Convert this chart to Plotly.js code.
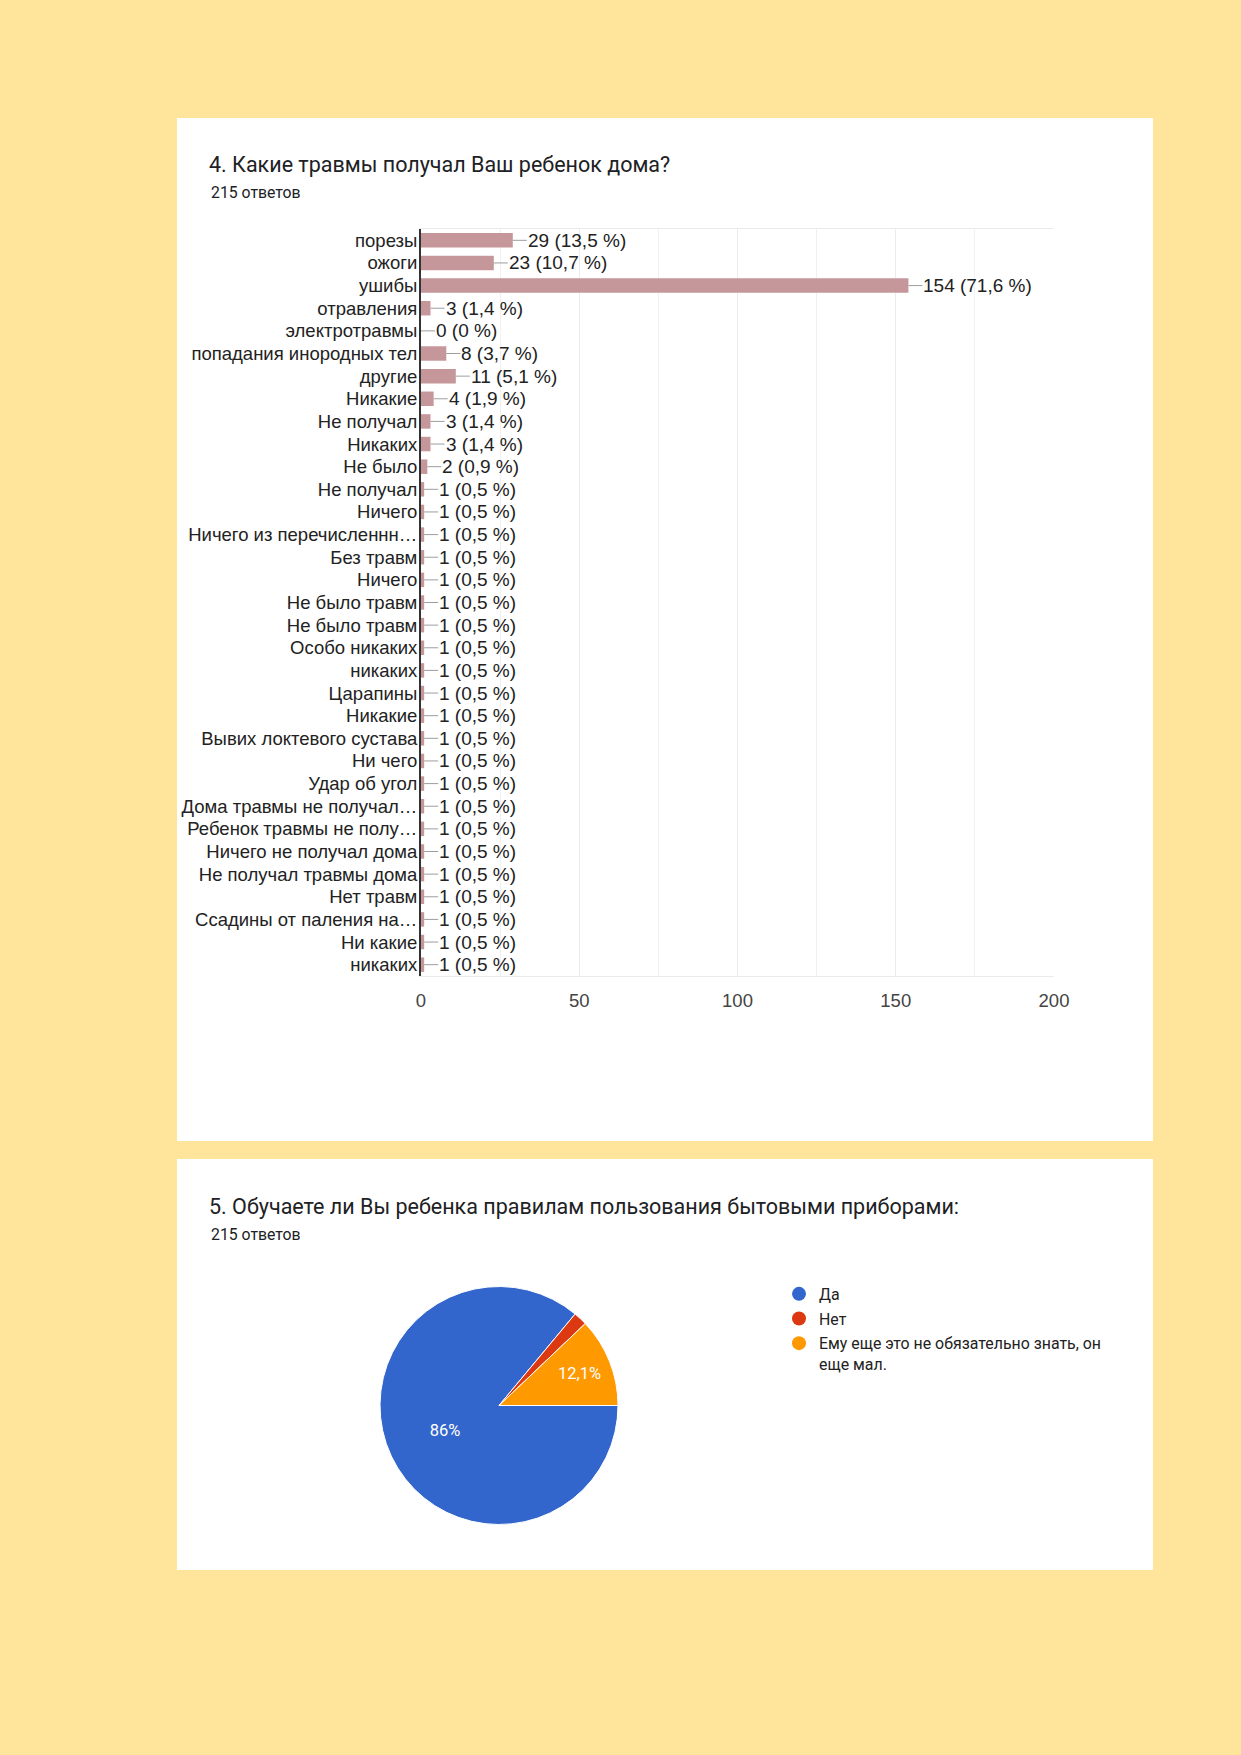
<!DOCTYPE html>
<html>
<head>
<meta charset="utf-8">
<script src="https://cdn.plot.ly/plotly-3.0.1.min.js"></script>
<style>
  html, body { margin: 0; padding: 0; }
  body { width: 1241px; height: 1755px; background: #ffe59c; position: relative; overflow: hidden; }
  .card { position: absolute; left: 177px; width: 976px; background: #ffffff; }
  #card1 { top: 118px; height: 1023px; }
  #card2 { top: 1159px; height: 411px; }
</style>
</head>
<body>
<div class="card" id="card1"><div id="bar"></div></div>
<div class="card" id="card2"><div id="pie"></div></div>
<script>
// ---------- Question 4 data ----------
const q4Title = '4. Какие травмы получал Ваш ребенок дома?';
const q4Responses = '215 ответов';
const injuryLabels = [
  'порезы', 'ожоги', 'ушибы', 'отравления', 'электротравмы',
  'попадания инородных тел', 'другие', 'Никакие', 'Не получал', 'Никаких',
  'Не было', 'Не получал', 'Ничего', 'Ничего из перечисленнн…', 'Без травм',
  'Ничего', 'Не было травм', 'Не было травм', 'Особо никаких', 'никаких',
  'Царапины', 'Никакие', 'Вывих локтевого сустава', 'Ни чего', 'Удар об угол',
  'Дома травмы не получал…', 'Ребенок травмы не полу…', 'Ничего не получал дома',
  'Не получал травмы дома', 'Нет травм', 'Ссадины от паления на…', 'Ни какие', 'никаких'
];
const injuryCounts = [
  29, 23, 154, 3, 0,
  8, 11, 4, 3, 3,
  2, 1, 1, 1, 1,
  1, 1, 1, 1, 1,
  1, 1, 1, 1, 1,
  1, 1, 1,
  1, 1, 1, 1, 1
];
const injuryPercents = [
  '13,5 %', '10,7 %', '71,6 %', '1,4 %', '0 %',
  '3,7 %', '5,1 %', '1,9 %', '1,4 %', '1,4 %',
  '0,9 %', '0,5 %', '0,5 %', '0,5 %', '0,5 %',
  '0,5 %', '0,5 %', '0,5 %', '0,5 %', '0,5 %',
  '0,5 %', '0,5 %', '0,5 %', '0,5 %', '0,5 %',
  '0,5 %', '0,5 %', '0,5 %',
  '0,5 %', '0,5 %', '0,5 %', '0,5 %', '0,5 %'
];
const xTickVals = [0, 50, 100, 150, 200];

// ---------- Question 5 data ----------
const q5Title = '5. Обучаете ли Вы ребенка правилам пользования бытовыми приборами:';
const q5Responses = '215 ответов';
const answerLabels = ['Да', 'Нет', 'Ему еще это не обязательно знать, он<br>еще мал.'];
const answerCounts = [185, 4, 26];
const answerSliceText = ['86%', '', '12,1%'];
const answerColors = ['#3366cc', '#dc3912', '#ff9900'];

// ---------- Bar chart ----------
const idx = injuryLabels.map((_, i) => i);
const barTrace = {
  type: 'bar', orientation: 'h',
  x: injuryCounts, y: idx,
  width: 0.64,
  marker: { color: '#c5979b' },
  hoverinfo: 'skip'
};
const valueAnns = injuryCounts.map((v, i) => ({
  x: v, y: i, xref: 'x', yref: 'y',
  text: v + ' (' + injuryPercents[i] + ')',
  showarrow: true, arrowhead: 0, arrowwidth: 1, arrowcolor: '#9e9e9e',
  ax: 14, ay: 0, axref: 'pixel', ayref: 'pixel',
  xanchor: 'left', yanchor: 'middle', standoff: 0, borderpad: 0,
  font: { family: 'Liberation Sans, Arial, sans-serif', size: 19, color: '#222222' }
}));
valueAnns.push({
  xref: 'paper', yref: 'paper', x: (32 - 244) / 633, y: 1 + (111 - 74.5) / 747,
  xanchor: 'left', yanchor: 'middle', showarrow: false,
  text: q4Responses,
  font: { family: 'Roboto, sans-serif', size: 15.8, color: '#202124' }
});
const barLayout = {
  width: 976, height: 1023,
  margin: { l: 244, r: 99, t: 111, b: 165 },
  paper_bgcolor: '#ffffff', plot_bgcolor: '#ffffff',
  showlegend: false,
  title: {
    text: q4Title, xref: 'container', yref: 'container',
    x: 32 / 976, xanchor: 'left', y: 1 - 46.5 / 1023, yanchor: 'middle',
    font: { family: 'Roboto, sans-serif', size: 21.5, color: '#202124' }
  },
  xaxis: {
    range: [0, 200], tickvals: xTickVals, ticktext: xTickVals.map(String),
    showgrid: true, gridcolor: '#ebebeb', gridwidth: 1,
    minor: { dtick: 25, tick0: 0, showgrid: true, gridcolor: '#f1f1f1', gridwidth: 1 },
    zeroline: false,
    showline: true, mirror: true, linecolor: '#ebebeb', linewidth: 1,
    ticks: 'outside', ticklen: 8, tickcolor: 'rgba(0,0,0,0)',
    tickfont: { family: 'Liberation Sans, Arial, sans-serif', size: 18.5, color: '#444444' },
    fixedrange: true
  },
  yaxis: {
    range: [idx.length - 0.5, -0.5],
    tickvals: idx, ticktext: injuryLabels,
    showgrid: false, zeroline: false,
    showline: true, linecolor: '#333333', linewidth: 2, layer: 'above traces',
    ticks: '', ticklabelstandoff: -2,
    tickfont: { family: 'Liberation Sans, Arial, sans-serif', size: 18.5, color: '#222222' },
    fixedrange: true
  },
  annotations: valueAnns
};
Plotly.newPlot('bar', [barTrace], barLayout, { displayModeBar: false, staticPlot: true });

// ---------- Pie chart ----------
const pieTrace = {
  type: 'pie',
  values: answerCounts, labels: answerLabels,
  marker: { colors: answerColors, line: { color: '#ffffff', width: 1 } },
  sort: false, direction: 'clockwise', rotation: 90,
  text: answerSliceText, textinfo: 'text', textposition: 'inside',
  insidetextorientation: 'horizontal',
  insidetextfont: { family: 'Roboto, sans-serif', size: 16.5, color: '#ffffff' },
  domain: { x: [(322 - 119) / 976, (322 + 119) / 976], y: [(164.5 - 119) / 411, (164.5 + 119) / 411] },
  showlegend: false, hoverinfo: 'skip'
};
const legendTraces = answerLabels.map((lab, i) => ({
  type: 'scatter', mode: 'markers', x: [null], y: [null],
  name: lab, legendgroup: 'g' + i,
  marker: { color: answerColors[i], size: 14, symbol: 'circle' },
  showlegend: true, hoverinfo: 'skip'
}));
const pieLayout = {
  width: 976, height: 411,
  margin: { l: 0, r: 0, t: 0, b: 0 },
  paper_bgcolor: '#ffffff', plot_bgcolor: '#ffffff',
  title: {
    text: q5Title, xref: 'container', yref: 'container',
    x: 32 / 976, xanchor: 'left', y: 1 - 47 / 411, yanchor: 'middle',
    font: { family: 'Roboto, sans-serif', size: 21.5, color: '#202124' }
  },
  annotations: [{
    xref: 'paper', yref: 'paper', x: 32 / 976, y: 1 - 75 / 411,
    xanchor: 'left', yanchor: 'middle', showarrow: false, text: q5Responses,
    font: { family: 'Roboto, sans-serif', size: 15.8, color: '#202124' }
  }],
  xaxis: { visible: false, fixedrange: true },
  yaxis: { visible: false, fixedrange: true },
  showlegend: true,
  legend: {
    x: (819 - 177 - 40) / 976, xanchor: 'left', y: 1 - 118 / 411, yanchor: 'top',
    valign: 'top', tracegroupgap: 1,
    font: { family: 'Roboto, sans-serif', size: 15.9, color: '#222222' },
    bgcolor: 'rgba(0,0,0,0)', itemclick: false, itemdoubleclick: false
  }
};
Plotly.newPlot('pie', [pieTrace].concat(legendTraces), pieLayout, { displayModeBar: false, staticPlot: true });
</script>
</body>
</html>
